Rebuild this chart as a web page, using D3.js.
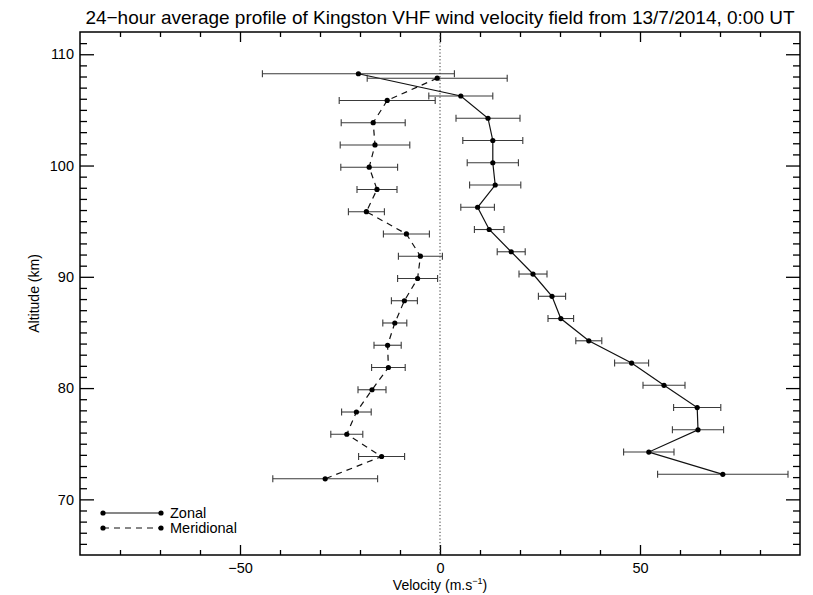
<!DOCTYPE html>
<html>
<head>
<meta charset="utf-8">
<script src="https://cdn.jsdelivr.net/npm/d3@7"></script>
<style>
  body { margin: 0; background: #fff; }
  svg { font-family: "Liberation Sans", Arial, sans-serif; }
</style>
</head>
<body>
<div id="chart"></div>
<script>
// altitude of each sample (km)
let zonalAlt = [108.25, 106.25, 104.25, 102.25, 100.25, 98.25, 96.25, 94.25, 92.25, 90.25,
                88.25, 86.25, 84.25, 82.25, 80.25, 78.25, 76.25, 74.25, 72.25];
let meridAlt = [107.85, 105.85, 103.85, 101.85, 99.85, 97.85, 95.85, 93.85, 91.85, 89.85,
                87.85, 85.85, 83.85, 81.85, 79.85, 77.85, 75.85, 73.85, 71.85];

// velocities (m/s) and error half-widths
let zonal    = [-20.4, 5.2, 12.0, 13.2, 13.2, 13.8, 9.4, 12.3, 17.8, 23.25,
                28.0, 30.2, 37.2, 47.9, 56.0, 64.3, 64.5, 52.2, 70.7];
let zonalErr = [24.0, 8.0, 8.0, 7.5, 6.4, 6.4, 4.2, 3.7, 3.5, 3.5,
                3.4, 3.2, 3.25, 4.25, 5.25, 5.9, 6.4, 6.3, 16.3];
let merid    = [-0.7, -13.2, -16.7, -16.25, -17.7, -15.75, -18.4, -8.4, -4.9, -5.6,
                -8.9, -11.3, -13.1, -12.9, -17.0, -20.9, -23.3, -14.6, -28.7];
let meridErr = [17.5, 12.0, 8.0, 8.7, 7.1, 5.0, 4.5, 5.75, 5.5, 5.0,
                3.25, 3.0, 3.4, 4.2, 3.5, 3.7, 4.0, 5.75, 13.1];

let xTicks = [-50, 0, 50];
let yTicks = [70, 80, 90, 100, 110];

let width = 813, height = 595;
let margin = {top: 32, right: 13, bottom: 40, left: 80};

let svg = d3.select("#chart").append("svg")
    .attr("width", width)
    .attr("height", height);

let x = d3.scaleLinear().domain([-90, 90]).range([margin.left, width - margin.right]);
let y = d3.scaleLinear().domain([65, 112]).range([height - margin.bottom, margin.top]);

let x0 = x.range()[0], x1 = x.range()[1];
let y0 = y.range()[1], y1 = y.range()[0];

// title
svg.append("text")
    .attr("x", (x0 + x1) / 2)
    .attr("y", 24)
    .attr("text-anchor", "middle")
    .attr("font-size", 19)
    .text("24\u2212hour average profile of Kingston VHF wind velocity field from 13/7/2014, 0:00 UT");

// axes: inward ticks on all four sides
let xMinor = d3.range(-80, 90, 10).filter(v => xTicks.indexOf(v) < 0);
let yMinor = d3.range(66, 112, 1).filter(v => yTicks.indexOf(v) < 0);

let bottomAxis = d3.axisBottom(x).tickValues(xTicks).tickSize(-10).tickPadding(8)
    .tickFormat(d => d < 0 ? "\u2212" + Math.abs(d) : d);
let bottomMinor = d3.axisBottom(x).tickValues(xMinor).tickSize(-5).tickFormat("");
let topAxis = d3.axisTop(x).tickValues(xTicks).tickSize(-10).tickFormat("");
let topMinor = d3.axisTop(x).tickValues(xMinor).tickSize(-5).tickFormat("");
let leftAxis = d3.axisLeft(y).tickValues(yTicks).tickSize(-14).tickPadding(6);
let leftMinor = d3.axisLeft(y).tickValues(yMinor).tickSize(-7).tickFormat("");
let rightAxis = d3.axisRight(y).tickValues(yTicks).tickSize(-14).tickFormat("");
let rightMinor = d3.axisRight(y).tickValues(yMinor).tickSize(-7).tickFormat("");

function styleAxis(g) {
    g.select(".domain").remove();
    g.selectAll(".tick line").attr("stroke", "#000").attr("stroke-width", 1.3);
    g.selectAll(".tick text").attr("font-size", 14.5).attr("fill", "#000")
        .attr("font-family", "Liberation Sans, Arial, sans-serif");
}

svg.append("g").attr("transform", `translate(0,${y1})`).call(bottomAxis).call(styleAxis);
svg.append("g").attr("transform", `translate(0,${y1})`).call(bottomMinor).call(styleAxis);
svg.append("g").attr("transform", `translate(0,${y0})`).call(topAxis).call(styleAxis);
svg.append("g").attr("transform", `translate(0,${y0})`).call(topMinor).call(styleAxis);
svg.append("g").attr("transform", `translate(${x0},0)`).call(leftAxis).call(styleAxis);
svg.append("g").attr("transform", `translate(${x0},0)`).call(leftMinor).call(styleAxis);
svg.append("g").attr("transform", `translate(${x1},0)`).call(rightAxis).call(styleAxis);
svg.append("g").attr("transform", `translate(${x1},0)`).call(rightMinor).call(styleAxis);

svg.append("rect")
    .attr("x", x0).attr("y", y0)
    .attr("width", x1 - x0).attr("height", y1 - y0)
    .attr("fill", "none").attr("stroke", "#000").attr("stroke-width", 1.5);

// axis labels
let xl = svg.append("text")
    .attr("x", (x0 + x1) / 2)
    .attr("y", 590)
    .attr("text-anchor", "middle")
    .attr("font-size", 14);
xl.append("tspan").text("Velocity (m.s");
xl.append("tspan").attr("font-size", 9).attr("dy", -6).text("\u22121");
xl.append("tspan").attr("dy", 6).text(")");

svg.append("text")
    .attr("transform", `translate(39,${(y0 + y1) / 2}) rotate(-90)`)
    .attr("text-anchor", "middle")
    .attr("font-size", 14)
    .text("Altitude (km)");

// zero line
svg.append("line")
    .attr("x1", x(0)).attr("x2", x(0))
    .attr("y1", y0).attr("y2", y1)
    .attr("stroke", "#333").attr("stroke-width", 1)
    .attr("stroke-dasharray", "1.2,2.2");

// series
let series = [
    {name: "Zonal", alt: zonalAlt, v: zonal, err: zonalErr, dash: null},
    {name: "Meridional", alt: meridAlt, v: merid, err: meridErr, dash: "6,5"}
];

let line = d3.line().x(d => x(d.v)).y(d => y(d.alt));

series.forEach(s => {
    let pts = s.v.map((v, i) => ({v: v, alt: s.alt[i], e: s.err[i]}));
    let g = svg.append("g");

    // error bars
    let eb = g.selectAll(".eb").data(pts).enter().append("g")
        .attr("stroke", "#3a3a3a").attr("stroke-width", 1.1);
    eb.append("line")
        .attr("x1", d => x(d.v - d.e)).attr("x2", d => x(d.v + d.e))
        .attr("y1", d => y(d.alt)).attr("y2", d => y(d.alt));
    eb.append("line")
        .attr("x1", d => x(d.v - d.e)).attr("x2", d => x(d.v - d.e))
        .attr("y1", d => y(d.alt) - 3.5).attr("y2", d => y(d.alt) + 3.5);
    eb.append("line")
        .attr("x1", d => x(d.v + d.e)).attr("x2", d => x(d.v + d.e))
        .attr("y1", d => y(d.alt) - 3.5).attr("y2", d => y(d.alt) + 3.5);

    g.append("path")
        .attr("d", line(pts))
        .attr("fill", "none")
        .attr("stroke", "#111")
        .attr("stroke-width", 1.2)
        .attr("stroke-dasharray", s.dash);

    g.selectAll("circle").data(pts).enter().append("circle")
        .attr("cx", d => x(d.v)).attr("cy", d => y(d.alt))
        .attr("r", 2.6).attr("fill", "#000");
});

// legend
let legend = svg.append("g");
series.forEach((s, i) => {
    let ly = 513 + i * 15;
    legend.append("line")
        .attr("x1", 103).attr("x2", 161)
        .attr("y1", ly).attr("y2", ly)
        .attr("stroke", "#111").attr("stroke-width", 1.2)
        .attr("stroke-dasharray", s.dash);
    legend.selectAll(null).data([103, 161]).enter().append("circle")
        .attr("cx", d => d).attr("cy", ly).attr("r", 2.6).attr("fill", "#000");
    legend.append("text")
        .attr("x", 170).attr("y", ly + 5)
        .attr("font-size", 14.5)
        .text(s.name);
});
</script>
</body>
</html>
